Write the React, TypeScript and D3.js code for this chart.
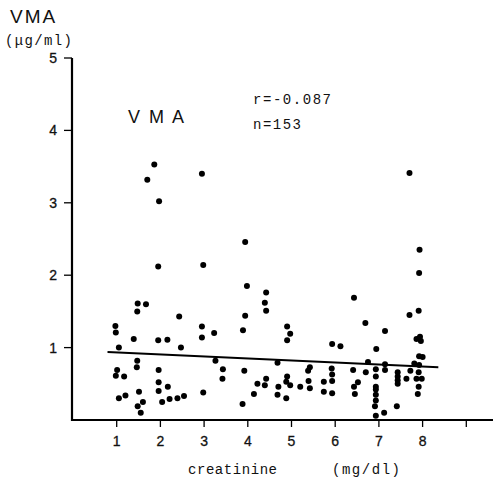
import React from "react";
import * as d3 from "d3";

// creatinine (mg/dl) vs VMA (μg/ml)
const creatinine: number[] = [
  1.86, 1.70, 2.95, 1.97, 1.95, 2.98, 3.94, 7.70, 7.93, 7.92,
  1.48, 1.67, 1.47, 2.43, 0.97, 0.98, 1.39, 1.95, 2.16, 1.05,
  2.47, 2.95, 2.95, 3.23, 1.47, 3.26, 1.46, 1.01, 1.96, 0.98,
  1.17, 1.96, 2.17, 1.51, 1.96, 2.98, 1.20, 1.05, 2.04, 2.21,
  2.39, 2.54, 1.60, 1.48, 1.55,
  3.98, 4.42, 4.39, 4.42, 3.94, 3.89, 4.90, 4.97, 4.90, 3.43,
  3.42, 3.92, 4.68, 4.22, 4.42, 4.39, 4.14, 3.88, 4.70, 4.68,
  4.88, 4.90, 4.88, 4.97, 5.20, 5.38, 5.42, 5.39, 5.42, 5.74,
  5.74, 5.92, 5.93, 5.93, 5.93, 5.93, 6.12,
  6.43, 6.69, 7.14, 7.70, 7.91, 6.94, 7.86, 7.94, 7.96, 7.92,
  8.00, 6.75, 7.14, 7.81, 7.92, 6.41, 6.70, 6.93, 6.93, 7.14,
  7.43, 7.43, 7.43, 7.43, 7.63, 7.72, 7.91, 7.86, 7.98, 6.52,
  6.43, 6.45, 6.93, 6.93, 6.93, 6.93, 6.91, 7.41, 7.12, 6.93,
  7.91, 7.89,
];

const vma: number[] = [
  3.53, 3.32, 3.40, 3.02, 2.12, 2.14, 2.46, 3.41, 2.35, 2.03,
  1.61, 1.60, 1.50, 1.43, 1.30, 1.21, 1.12, 1.10, 1.11, 1.00,
  1.00, 1.29, 1.14, 1.20, 0.82, 0.82, 0.73, 0.69, 0.69, 0.61,
  0.60, 0.52, 0.46, 0.39, 0.40, 0.38, 0.34, 0.30, 0.25, 0.29,
  0.30, 0.33, 0.25, 0.19, 0.10,
  1.85, 1.76, 1.62, 1.51, 1.44, 1.24, 1.29, 1.19, 1.10, 0.70,
  0.57, 0.68, 0.79, 0.50, 0.57, 0.48, 0.36, 0.22, 0.46, 0.35,
  0.30, 0.60, 0.53, 0.48, 0.46, 0.68, 0.73, 0.54, 0.44, 0.53,
  0.39, 0.71, 0.63, 0.54, 0.37, 1.05, 1.02,
  1.69, 1.34, 1.23, 1.45, 1.51, 0.98, 1.12, 1.15, 1.09, 0.88,
  0.87, 0.80, 0.77, 0.78, 0.76, 0.69, 0.66, 0.70, 0.60, 0.69,
  0.66, 0.60, 0.55, 0.50, 0.57, 0.68, 0.66, 0.57, 0.57, 0.52,
  0.46, 0.36, 0.46, 0.42, 0.35, 0.27, 0.19, 0.19, 0.10, 0.06,
  0.46, 0.36,
];

// regression line endpoints (x) and coefficients
const fitRange: number[] = [0.79, 8.36];
const fitIntercept = 0.962;
const fitSlope = -0.028;

const xTicks: number[] = [1, 2, 3, 4, 5, 6, 7, 8, 9];
const xTickLabels: string[] = ["1", "2", "3", "4", "5", "6", "7", "8", ""];
const yTicks: number[] = [1, 2, 3, 4, 5];

const W = 493;
const H = 480;

export default function App() {
  const x = d3.scaleLinear().domain([0, 10]).range([73, 510]);
  const y = d3.scaleLinear().domain([0, 5]).range([420, 58]);

  const points = creatinine.map((c, i) => ({ c, v: vma[i] }));
  const fitLine = d3
    .line<number>()
    .x((d) => x(d))
    .y((d) => y(fitIntercept + fitSlope * d));

  const axisX0 = 72;
  const tickLabelFont = "'Liberation Sans', Arial, sans-serif";
  const mono = "'Liberation Mono', 'Courier New', monospace";

  return (
    <svg
      width={W}
      height={H}
      style={{ position: "absolute", left: 0, top: 0, background: "#fff" }}
    >
      <rect x={0} y={0} width={W} height={H} fill="#fff" />

      {/* y axis */}
      <line x1={axisX0} x2={axisX0} y1={y(5)} y2={y(0) + 1} stroke="#000" strokeWidth={2.2} />
      {yTicks.map((t) => (
        <g key={"y" + t}>
          <line x1={axisX0 - 8} x2={axisX0} y1={y(t)} y2={y(t)} stroke="#000" strokeWidth={1.3} />
          <text
            x={axisX0 - 15}
            y={y(t)}
            dy="0.36em"
            textAnchor="end"
            fontFamily={tickLabelFont}
            fontSize={14}
            stroke="#111"
            strokeWidth={0.3}
            fill="#111"
          >
            {t}
          </text>
        </g>
      ))}

      {/* x axis */}
      <line x1={axisX0 - 1} x2={W} y1={y(0)} y2={y(0)} stroke="#000" strokeWidth={2.2} />
      {xTicks.map((t, i) => (
        <g key={"x" + t}>
          <line x1={x(t)} x2={x(t)} y1={y(0)} y2={y(0) + 7} stroke="#000" strokeWidth={1.3} />
          <text
            x={x(t)}
            y={446}
            textAnchor="middle"
            fontFamily={tickLabelFont}
            fontSize={14}
            stroke="#111"
            strokeWidth={0.3}
            fill="#111"
          >
            {xTickLabels[i]}
          </text>
        </g>
      ))}

      {/* axis titles */}
      <text x={10} y={23} fontFamily={tickLabelFont} fontSize={19} letterSpacing={2} fill="#111">
        VMA
      </text>
      <text x={5} y={45} fontFamily={mono} fontSize={14} textLength={67} fill="#111">
        (μg/ml)
      </text>
      <text x={188} y={474} fontFamily={mono} fontSize={14} textLength={89} fill="#111">
        creatinine
      </text>
      <text x={332} y={474} fontFamily={mono} fontSize={14} textLength={68} fill="#111">
        (mg/dl)
      </text>

      {/* annotations */}
      <text x={128} y={123} fontFamily={tickLabelFont} fontSize={18} textLength={56} fill="#111">
        V M A
      </text>
      <text x={253} y={104} fontFamily={mono} fontSize={14} textLength={78} fill="#111">
        r=-0.087
      </text>
      <text x={253} y={129} fontFamily={mono} fontSize={14} textLength={48} fill="#111">
        n=153
      </text>

      {/* regression line */}
      <path d={fitLine(fitRange) || ""} fill="none" stroke="#000" strokeWidth={2} />

      {/* data points */}
      {points.map((p, i) => (
        <circle key={i} cx={x(p.c)} cy={y(p.v)} r={3} fill="#000" />
      ))}
    </svg>
  );
}
